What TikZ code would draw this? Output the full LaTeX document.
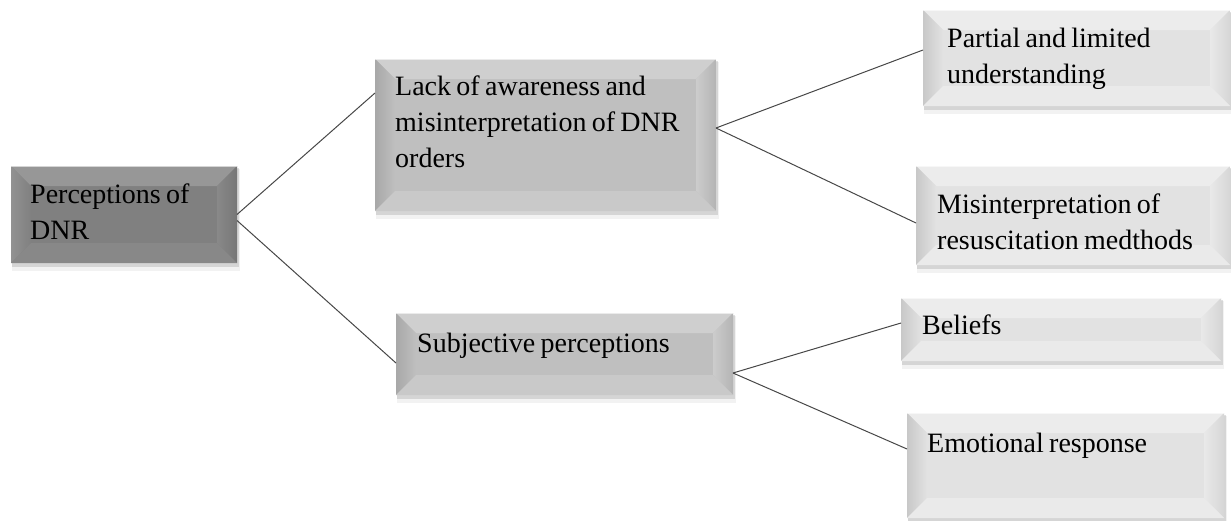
\documentclass[tikz,border=0pt]{standalone}
\usepackage{fontspec}
\setmainfont{Liberation Serif}
\usetikzlibrary{fit,calc}

\definecolor{dmid}{HTML}{808080}
\definecolor{dtop}{HTML}{979797}
\definecolor{dlo}{HTML}{929292}
\definecolor{dhi}{HTML}{898989}
\definecolor{dro}{HTML}{767676}
\definecolor{dbot}{HTML}{888888}

\definecolor{mmid}{HTML}{BFBFBF}
\definecolor{mtop}{HTML}{CFCFCF}
\definecolor{mlo}{HTML}{A8A8A8}
\definecolor{mhi}{HTML}{CCCCCC}
\definecolor{mro}{HTML}{B4B4B4}
\definecolor{mbot}{HTML}{C9C9C9}

\definecolor{lmid}{HTML}{E2E2E2}
\definecolor{ltop}{HTML}{ECECEC}
\definecolor{llo}{HTML}{C8C8C8}
\definecolor{lhi}{HTML}{E9E9E9}
\definecolor{lro}{HTML}{D6D6D6}
\definecolor{lbot}{HTML}{EAEAEA}

\newcommand\tightwords{\spaceskip=0.19em plus 0.05em minus 0.03em\relax}

\tikzset{
  boxframe/.style={inner sep=0pt, outer sep=0pt, draw=none},
  boxtext/.style={inner sep=0pt, anchor=north west, align=left,
    font=\fontsize{28}{36}\selectfont, text=black,
    execute at begin node=\tightwords},
  link/.style={draw=black!72, line width=1pt},
}

% name, x1, y1, x2, y2, tone, dx, dy, text
\newcommand\bevbox[9]{%
  \fill[black,opacity=0.05] (#2+1,#3+3) rectangle (#4+3,#5+8);
  \fill[black,opacity=0.12] (#2+1,#3+2) rectangle (#4+2,#5+4);
  \node[boxframe, fit={(#2,#3) (#4,#5)}] (#1) {};
  \fill[#6mid] (#1.north west) rectangle (#1.south east);
  \fill[#6top] (#1.north west) -- (#1.north east)
     -- ([shift={(-20pt,-20pt)}]#1.north east)
     -- ([shift={(20pt,-20pt)}]#1.north west) -- cycle;
  \shade[left color=#6lo, right color=#6mid] (#1.north west)
     -- ([shift={(20pt,-20pt)}]#1.north west)
     -- ([shift={(20pt,20pt)}]#1.south west)
     -- (#1.south west) -- cycle;
  \shade[left color=#6hi, right color=#6ro] (#1.north east)
     -- (#1.south east)
     -- ([shift={(-20pt,20pt)}]#1.south east)
     -- ([shift={(-20pt,-20pt)}]#1.north east) -- cycle;
  \fill[#6bot] (#1.south west) -- (#1.south east)
     -- ([shift={(-20pt,20pt)}]#1.south east)
     -- ([shift={(20pt,20pt)}]#1.south west) -- cycle;
  \draw[white, opacity=0.6, line width=1pt] (#1.north west) -- (#1.north east);
  \node[boxtext] (#1t) at ([shift={(#7pt,-#8pt)}]#1.north west) {\strut #9};
}

\begin{document}
\begin{tikzpicture}[x=1pt,y=-1pt]
\useasboundingbox (0,0) rectangle (1231,520);

\bevbox{perc}{11}{166}{237}{263}{d}{19}{12}{Perceptions of\\DNR}
\bevbox{lack}{375}{59}{716}{211}{m}{20}{11}{Lack of awareness and\\misinterpretation of DNR\\orders}
\bevbox{subj}{396}{313}{733}{395}{m}{21}{14}{Subjective perceptions}
\bevbox{part}{923}{10}{1230}{106}{l}{24}{12}{Partial and limited\\understanding}
\bevbox{misi}{916}{166}{1230}{265}{l}{21}{22}{Misinterpretation of\\resuscitation medthods}
\bevbox{beli}{901}{298}{1221}{361}{l}{21}{11}{Beliefs}
\bevbox{emot}{907}{413}{1224}{518}{l}{20}{14}{Emotional response}

\draw[link] (perc.east) -- ([yshift=-34pt]lack.north west);
\draw[link] ([yshift=-6pt]perc.east) -- ([yshift=-50pt]subj.north west);
\draw[link] ([yshift=7pt]lack.east) -- ([yshift=-40pt]part.north west);
\draw[link] ([yshift=7pt]lack.east) -- ([yshift=-57pt]misi.north west);
\draw[link] ([yshift=-19pt]subj.east) -- ([yshift=-25pt]beli.north west);
\draw[link] ([yshift=-19pt]subj.east) -- ([yshift=-36pt]emot.north west);
\end{tikzpicture}
\end{document}
